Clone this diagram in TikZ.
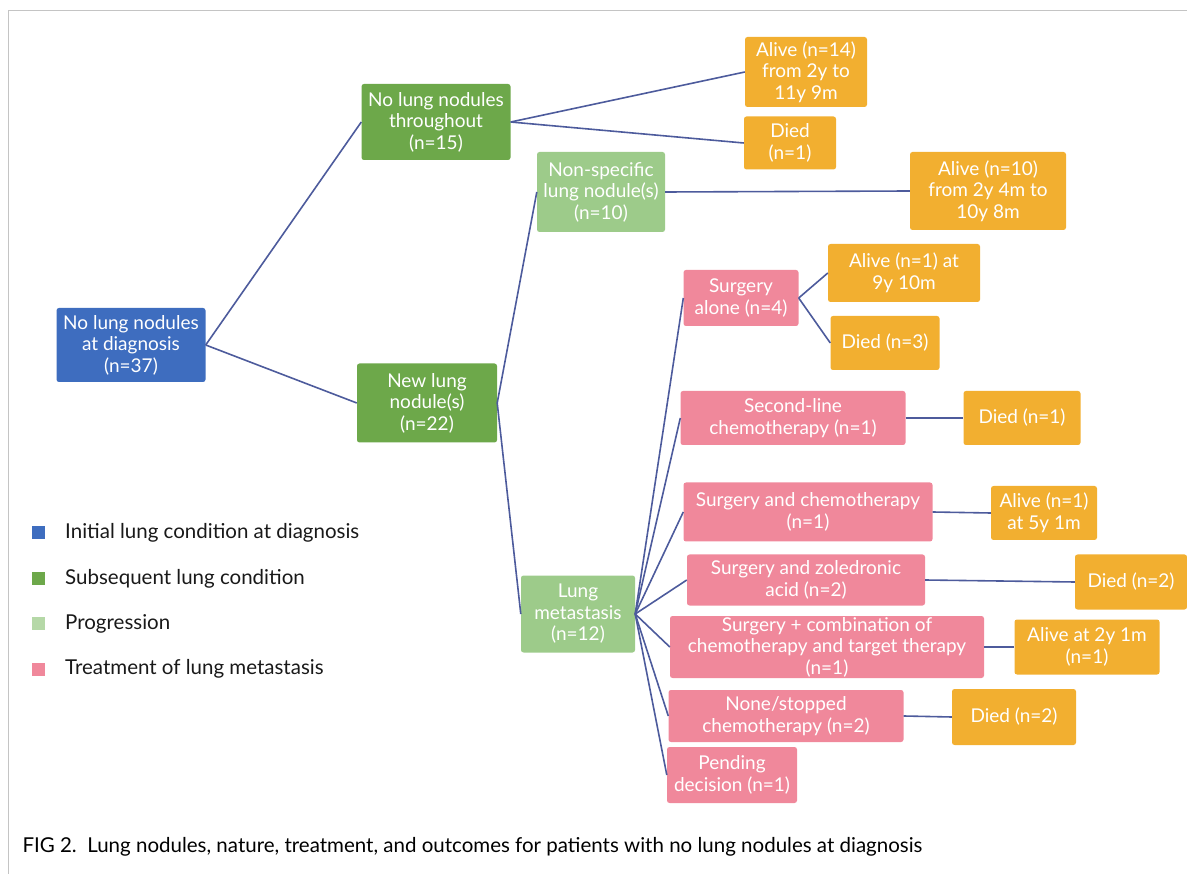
\documentclass[tikz,border=0pt]{standalone}
\usepackage{fontspec}
\setmainfont{Lato}
\usetikzlibrary{positioning}

\definecolor{diagblue}{HTML}{3E6DBF}
\definecolor{latergreen}{HTML}{6DA84A}
\definecolor{proggreen}{HTML}{9DCB8A}
\definecolor{treatpink}{HTML}{F0889B}
\definecolor{outorange}{HTML}{F2AF30}
\definecolor{linkblue}{HTML}{4D5B9C}
\definecolor{framegray}{HTML}{C4C4C4}

\tikzset{
  box/.style={rounded corners=2.5pt, align=center, text=white, inner sep=1pt,
              font=\fontsize{19}{21.5}\selectfont},
  diagbox/.style={box, fill=diagblue},
  laterbox/.style={box, fill=latergreen},
  progbox/.style={box, fill=proggreen},
  treatbox/.style={box, fill=treatpink},
  outbox/.style={box, fill=outorange},
  link/.style={draw=linkblue, line width=1.6pt},
  legsq/.style={minimum size=13pt, inner sep=0pt},
  legtext/.style={anchor=west, font=\fontsize{20.5}{22}\selectfont, text=black!90}
}

\begin{document}
\begin{tikzpicture}[x=1pt,y=-1pt]
\useasboundingbox (0,0) rectangle (1187,874);
\draw[framegray, line width=1pt] (8,874) -- (8,11) -- (1187,11);

% tree
\node[diagbox,  minimum width=149pt, minimum height=74pt] (init)    at (131,345)  {No lung nodules\\at diagnosis\\(n=37)};
\node[laterbox, minimum width=149pt, minimum height=76pt] (thr)     at (436,122)  {No lung nodules\\throughout\\(n=15)};
\node[laterbox, minimum width=140pt, minimum height=79pt] (new)     at (427,403)  {New lung\\nodule(s)\\(n=22)};
\node[progbox,  minimum width=128pt, minimum height=80pt] (nonspec) at (601,192)  {Non-specific\\lung nodule(s)\\(n=10)};
\node[progbox,  minimum width=114pt, minimum height=77pt] (meta)    at (578,614)  {Lung\\metastasis\\(n=12)};
\node[outbox,   minimum width=122pt, minimum height=70pt] (a14)     at (806,72)   {Alive (n=14)\\from 2y to\\11y 9m};
\node[outbox,   minimum width=92pt,  minimum height=53pt] (d1a)     at (790,143)  {Died\\(n=1)};
\node[outbox,   minimum width=156pt, minimum height=78pt] (a10)     at (988,191)  {Alive (n=10)\\from 2y 4m to\\10y 8m};
\node[treatbox, minimum width=115pt, minimum height=56pt] (surg)    at (741,298)  {Surgery\\alone (n=4)};
\node[outbox,   minimum width=152pt, minimum height=58pt] (a1)      at (904,273)  {Alive (n=1) at\\9y 10m};
\node[outbox,   minimum width=109pt, minimum height=54pt] (d3)      at (885,343)  {Died (n=3)};
\node[treatbox, minimum width=225pt, minimum height=54pt] (second)  at (793,418)  {Second-line\\chemotherapy (n=1)};
\node[outbox,   minimum width=117pt, minimum height=54pt] (d1b)     at (1022,418) {Died (n=1)};
\node[treatbox, minimum width=249pt, minimum height=59pt] (sc)      at (808,512)  {Surgery and chemotherapy\\(n=1)};
\node[outbox,   minimum width=106pt, minimum height=54pt] (a5)      at (1044,513) {Alive (n=1)\\at 5y 1m};
\node[treatbox, minimum width=238pt, minimum height=51pt] (sz)      at (806,580)  {Surgery and zoledronic\\acid (n=2)};
\node[outbox,   minimum width=112pt, minimum height=55pt] (dz)      at (1131,582) {Died (n=2)};
\node[treatbox, minimum width=314pt, minimum height=62pt] (comb)    at (827,647)  {Surgery + combination of\\chemotherapy and target therapy\\(n=1)};
\node[outbox,   minimum width=145pt, minimum height=55pt] (a2)      at (1087,647) {Alive at 2y 1m\\(n=1)};
\node[treatbox, minimum width=235pt, minimum height=52pt] (none)    at (786,716)  {None/stopped\\chemotherapy (n=2)};
\node[outbox,   minimum width=124pt, minimum height=56pt] (dn)      at (1014,717) {Died (n=2)};
\node[treatbox, minimum width=130pt, minimum height=56pt] (pend)    at (732,775)  {Pending\\decision (n=1)};

\path[link] (init.east)    edge (thr.west);
\path[link] (init.east)    edge (new.west);
\path[link] (thr.east)     edge (a14.west);
\path[link] (thr.east)     edge (d1a.west);
\path[link] (new.east)     edge (nonspec.west);
\path[link] (new.east)     edge (meta.west);
\path[link] (nonspec.east) edge (a10.west);
\path[link] (meta.east)    edge (surg.west);
\path[link] (meta.east)    edge (second.west);
\path[link] (meta.east)    edge (sc.west);
\path[link] (meta.east)    edge (sz.west);
\path[link] (meta.east)    edge (comb.west);
\path[link] (meta.east)    edge (none.west);
\path[link] (meta.east)    edge (pend.west);
\path[link] (surg.east)    edge (a1.west);
\path[link] (surg.east)    edge (d3.west);
\path[link] (second.east)  edge (d1b.west);
\path[link] (sc.east)      edge (a5.west);
\path[link] (sz.east)      edge (dz.west);
\path[link] (comb.east)    edge (a2.west);
\path[link] (none.east)    edge (dn.west);

% legend
\node[legsq, fill=diagblue]                    (lg1) at (38,533) {};
\node[legsq, fill=latergreen, below=32pt of lg1] (lg2) {};
\node[legsq, fill=proggreen!75!white, below=32pt of lg2] (lg3) {};
\node[legsq, fill=treatpink,  below=32pt of lg3] (lg4) {};
\node[legtext, right=17pt of lg1] (lt1) {Initial lung condition at diagnosis};
\node[legtext, right=17pt of lg2] (lt2) {Subsequent lung condition};
\node[legtext, right=17pt of lg3] (lt3) {Progression};
\node[legtext, right=17pt of lg4] (lt4) {Treatment of lung metastasis};

% caption
\node[anchor=west, font=\fontsize{20.5}{22}\selectfont] (caption) at (19,847)
  {FIG 2.\ \ Lung nodules, nature, treatment, and outcomes for patients with no lung nodules at diagnosis};
\end{tikzpicture}
\end{document}
